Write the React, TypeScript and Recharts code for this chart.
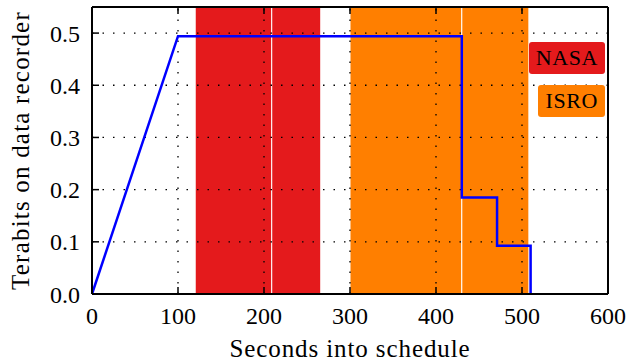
import React from 'react';
import { ComposedChart, Line, XAxis, YAxis, ReferenceArea, ReferenceLine } from 'recharts';

// recorder fill level (Tb) over the schedule
const seconds = [0, 100, 430, 430, 471, 471, 510, 510];
const terabits = [0, 0.494, 0.494, 0.185, 0.185, 0.0925, 0.0925, 0];

// downlink windows, one row per pass
const passAgency = ['NASA', 'NASA', 'ISRO', 'ISRO'];
const passStart = [120, 209, 300, 430];
const passEnd = [209, 266, 430, 508];

const xTicks = [0, 100, 200, 300, 400, 500, 600];
const yTicks = [0, 0.1, 0.2, 0.3, 0.4, 0.5];

const AGENCY_COLORS: Record<string, string> = { NASA: '#e41a1c', ISRO: '#ff7f00' };
const FONT = 'Liberation Serif';

const data = seconds.map((s, i) => ({ t: s, tb: terabits[i] }));
const agencies = Array.from(new Set(passAgency));

const LegendBoxes = () => (
  <div
    style={{
      position: 'absolute',
      top: 42,
      right: 25,
      display: 'flex',
      flexDirection: 'column',
      alignItems: 'flex-end',
      gap: 11,
    }}
  >
    {agencies.map(a => (
      <div
        key={a}
        style={{
          background: AGENCY_COLORS[a],
          color: '#000',
          fontFamily: FONT,
          fontSize: 22,
          letterSpacing: 0.6,
          padding: '3px 7px',
          borderRadius: 3,
          lineHeight: '26px',
        }}
      >
        {a}
      </div>
    ))}
  </div>
);

export default function App() {
  const tickStyle = { fill: '#000', fontSize: 24, fontFamily: FONT };
  return (
    <div style={{ position: 'absolute', left: 0, top: 0, width: 630, height: 362, background: '#fff', fontFamily: FONT }}>
      <ComposedChart
        width={630}
        height={362}
        data={data}
        margin={{ top: 6, right: 21, left: 0, bottom: 0 }}
        style={{ fontFamily: FONT }}
      >
        <XAxis
          xAxisId="b"
          dataKey="t"
          type="number"
          domain={[0, 600]}
          ticks={xTicks}
          interval={0}
          height={68}
          tickSize={-7}
          tickMargin={20}
          axisLine={{ stroke: '#000', strokeWidth: 2 }}
          tickLine={{ stroke: '#000', strokeWidth: 1.5 }}
          tick={tickStyle}
          label={{
            value: 'Seconds into schedule',
            position: 'insideBottom',
            offset: 5,
            fill: '#000',
            fontSize: 25,
            fontFamily: FONT,
            style: { letterSpacing: 0.9 },
          }}
        />
        <XAxis
          xAxisId="t"
          orientation="top"
          dataKey="t"
          type="number"
          domain={[0, 600]}
          ticks={xTicks}
          height={1}
          tickSize={-7}
          tickFormatter={() => ''}
          axisLine={{ stroke: '#000', strokeWidth: 2 }}
          tickLine={{ stroke: '#000', strokeWidth: 1.5 }}
        />
        <YAxis
          yAxisId="l"
          type="number"
          domain={[0, 0.55]}
          ticks={yTicks}
          interval={0}
          width={92}
          tickSize={-7}
          tickMargin={19}
          tickFormatter={(v: number) => v.toFixed(1)}
          axisLine={{ stroke: '#000', strokeWidth: 2 }}
          tickLine={{ stroke: '#000', strokeWidth: 1.5 }}
          tick={tickStyle}
          label={{
            value: 'Terabits on data recorder',
            angle: -90,
            position: 'insideLeft',
            offset: 20,
            style: { textAnchor: 'middle', letterSpacing: 1.2 },
            fill: '#000',
            fontSize: 25,
            fontFamily: FONT,
          }}
        />
        <YAxis
          yAxisId="r"
          orientation="right"
          type="number"
          domain={[0, 0.55]}
          ticks={yTicks}
          width={1}
          tickSize={-7}
          tickFormatter={() => ''}
          axisLine={{ stroke: '#000', strokeWidth: 2 }}
          tickLine={{ stroke: '#000', strokeWidth: 1.5 }}
        />
        {passStart.map((s, i) => (
          <ReferenceArea
            key={'p' + i}
            xAxisId="b"
            yAxisId="l"
            x1={s}
            x2={passEnd[i]}
            y1={0}
            y2={0.55}
            fill={AGENCY_COLORS[passAgency[i]]}
            fillOpacity={1}
            stroke="#fff"
            strokeWidth={1}
          />
        ))}
        {xTicks.slice(1, -1).map(v => (
          <ReferenceLine key={'gx' + v} xAxisId="b" yAxisId="l" x={v} stroke="#000" strokeWidth={1.3} strokeDasharray="1.5 9" />
        ))}
        {yTicks.slice(1).map(v => (
          <ReferenceLine key={'gy' + v} xAxisId="b" yAxisId="l" y={v} stroke="#000" strokeWidth={1.3} strokeDasharray="1.5 9" />
        ))}
        <Line
          xAxisId="b"
          yAxisId="l"
          type="linear"
          dataKey="tb"
          stroke="#0000ff"
          strokeWidth={2.5}
          dot={false}
          activeDot={false}
          isAnimationActive={false}
        />
      </ComposedChart>
      <LegendBoxes />
    </div>
  );
}
